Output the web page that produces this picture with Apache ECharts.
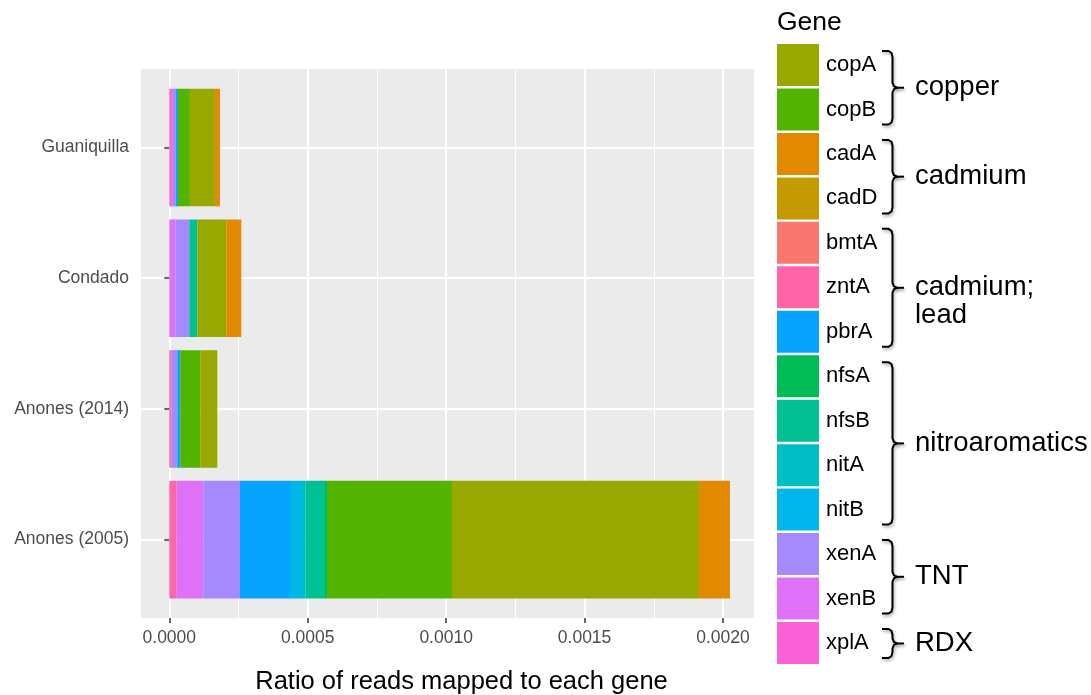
<!DOCTYPE html>
<html>
<head>
<meta charset="utf-8">
<script src="https://cdn.jsdelivr.net/npm/echarts@6/dist/echarts.min.js"></script>
<style>
  html, body { margin: 0; padding: 0; background: #fff; }
  #chart { width: 1091px; height: 695px; }
</style>
</head>
<body>
<div id="chart"></div>
<script>
// 数据：y 轴类别（自下而上）
const categories = ['Anones (2005)', 'Anones (2014)', 'Condado', 'Guaniquilla'];

// 每个基因在各样点的比例（顺序同 categories）
const zntA = [0.0000267, 0.0000072, 0, 0.0000060];
const xplA = [0, 0, 0, 0];
const xenB = [0.0000961, 0, 0.0000229, 0.0000072];
const xenA = [0.0001326, 0.0000217, 0.0000494, 0.0000108];
const pbrA = [0.0001806, 0.0000108, 0, 0.0000072];
const nitB = [0.0000433, 0, 0, 0];
const nitA = [0.0000134, 0, 0, 0];
const nfsB = [0.0000697, 0, 0.0000289, 0];
const nfsA = [0.0000072, 0, 0, 0];
const copB = [0.0004515, 0.0000722, 0, 0.0000433];
const copA = [0.000892, 0.0000614, 0.0001047, 0.0000903];
const cadD = [0, 0, 0, 0];
const cadA = [0.000112, 0, 0.0000542, 0.000018];
const bmtA = [0, 0, 0, 0];

// 堆叠顺序（从左到右）
const stackOrder = ['zntA', 'xplA', 'xenB', 'xenA', 'pbrA', 'nitB', 'nitA', 'nfsB', 'nfsA', 'copB', 'copA', 'cadD', 'cadA', 'bmtA'];
const geneValues = { zntA, xplA, xenB, xenA, pbrA, nitB, nitA, nfsB, nfsA, copB, copA, cadD, cadA, bmtA };

// 图例顺序
const legendOrder = ['copA', 'copB', 'cadA', 'cadD', 'bmtA', 'zntA', 'pbrA', 'nfsA', 'nfsB', 'nitA', 'nitB', 'xenA', 'xenB', 'xplA'];

// 基因分组（图例右侧括号）
const groupNames = ['copper', 'cadmium', 'cadmium;\nlead', 'nitroaromatics', 'TNT', 'RDX'];
const groupFirst = [0, 2, 4, 7, 11, 13];
const groupLast = [1, 3, 6, 10, 12, 13];

// x 轴刻度
const xTicks = [0, 0.0005, 0.001, 0.0015, 0.002];
const xTickLabels = ['0.0000', '0.0005', '0.0010', '0.0015', '0.0020'];
const xMinorTicks = [0.00025, 0.00075, 0.00125, 0.00175];
const yTicks = [1, 2, 3, 4];

const colors = {
  bmtA: '#F8766D', cadA: '#E38900', cadD: '#C49A00', copA: '#99A800', copB: '#53B400',
  nfsA: '#00BC56', nfsB: '#00C094', nitA: '#00BFC4', nitB: '#00B6EB', pbrA: '#06A4FF',
  xenA: '#A58AFF', xenB: '#DF70F8', xplA: '#FB61D7', zntA: '#FF66A8'
};

const XMIN = -0.0001022, XMAX = 0.002112;
const FONT = 'Liberation Sans, Arial, sans-serif';

// 图例布局
const LEG_LEFT = 777, LEG_TOP = 44, KEY = 42, ROW = 44.46;

const myChart = echarts.init(document.getElementById('chart'));

const graphics = [
  {
    type: 'text', left: LEG_LEFT, top: 9,
    style: { text: 'Gene', fontSize: 26.5, fontFamily: FONT, fill: '#000' }
  }
];
groupNames.forEach((name, i) => {
  const top = LEG_TOP + groupFirst[i] * ROW + 7;
  const bot = LEG_TOP + groupLast[i] * ROW + KEY - 6;
  const mid = (top + bot) / 2;
  const shadow = { shadowColor: 'rgba(0,0,0,0.35)', shadowBlur: 3, shadowOffsetX: 1, shadowOffsetY: 2 };
  graphics.push({
    type: 'polyline',
    shape: {
      points: [
        [882, top], [888.5, top], [891.5, top + 2], [892.5, top + 6],
        [892.5, mid - 5], [894, mid - 1.5], [897, mid],
        [894, mid + 1.5], [892.5, mid + 5],
        [892.5, bot - 6], [891.5, bot - 2], [888.5, bot], [882, bot]
      ]
    },
    style: Object.assign({ stroke: '#000', lineWidth: 2, fill: null }, shadow)
  });
  graphics.push({
    type: 'line',
    shape: { x1: 896, y1: mid, x2: 904, y2: mid },
    style: Object.assign({ stroke: '#000', lineWidth: 2 }, shadow)
  });
  graphics.push({
    type: 'text', x: 915, y: mid - 14,
    style: {
      text: name, fontSize: 27.5, fontFamily: FONT, fill: '#000',
      verticalAlign: 'top', lineHeight: 28
    }
  });
});

const options = {
  animation: false,
  textStyle: { fontFamily: FONT },
  grid: [
    {
      left: 141, right: 337, top: 69, bottom: 77, show: true,
      backgroundColor: '#EBEBEB', borderWidth: 0,
      containLabel: false, outerBoundsMode: 'none'
    },
    { left: 141, right: 337, top: 82.2, bottom: 90, containLabel: false, outerBoundsMode: 'none' }
  ],
  xAxis: [
    {
      gridIndex: 0, type: 'value', min: XMIN, max: XMAX,
      axisLine: { show: false },
      axisTick: { show: true, customValues: xTicks, length: 5, lineStyle: { color: '#333', width: 1.5 } },
      axisLabel: {
        customValues: xTicks, margin: 11.5, fontSize: 17.5, color: '#4D4D4D',
        formatter: v => xTickLabels[xTicks.indexOf(v)]
      },
      splitLine: { show: true, lineStyle: { color: '#fff', width: 2 } },
      name: 'Ratio of reads mapped to each gene',
      nameLocation: 'middle', nameGap: 51,
      nameTextStyle: { fontSize: 25.5, color: '#000', padding: [0, 0, 0, 28] }
    },
    {
      gridIndex: 0, type: 'value', min: XMIN, max: XMAX,
      axisLine: { show: false },
      axisTick: { show: false, customValues: xMinorTicks },
      axisLabel: { show: false },
      splitLine: { show: true, lineStyle: { color: '#fff', width: 1 } }
    },
    { gridIndex: 1, type: 'value', min: XMIN, max: XMAX, show: false }
  ],
  yAxis: [
    {
      gridIndex: 0, type: 'value', min: 0.4, max: 4.6,
      axisLine: { show: false },
      axisTick: { show: true, customValues: yTicks, length: 5, lineStyle: { color: '#333', width: 1.5 } },
      axisLabel: {
        customValues: yTicks, margin: 12, fontSize: 17.5, color: '#4D4D4D',
        formatter: v => categories[Math.round(v) - 1]
      },
      splitLine: { show: true, lineStyle: { color: '#fff', width: 2 } }
    },
    { gridIndex: 1, type: 'category', data: categories, show: false }
  ],
  legend: {
    orient: 'vertical', left: LEG_LEFT, top: LEG_TOP, padding: 0,
    itemWidth: KEY, itemHeight: KEY, itemGap: ROW - KEY,
    icon: 'rect', selectedMode: false,
    data: legendOrder,
    textStyle: { fontSize: 22, color: '#000', padding: [0, 0, 0, 2] }
  },
  graphic: graphics,
  series: stackOrder.map(g => ({
    name: g,
    type: 'bar',
    stack: 'total',
    xAxisIndex: 2,
    yAxisIndex: 1,
    barWidth: '90%',
    data: geneValues[g],
    itemStyle: { color: colors[g] },
    emphasis: { disabled: true }
  }))
};

myChart.setOption(options);
</script>
</body>
</html>
